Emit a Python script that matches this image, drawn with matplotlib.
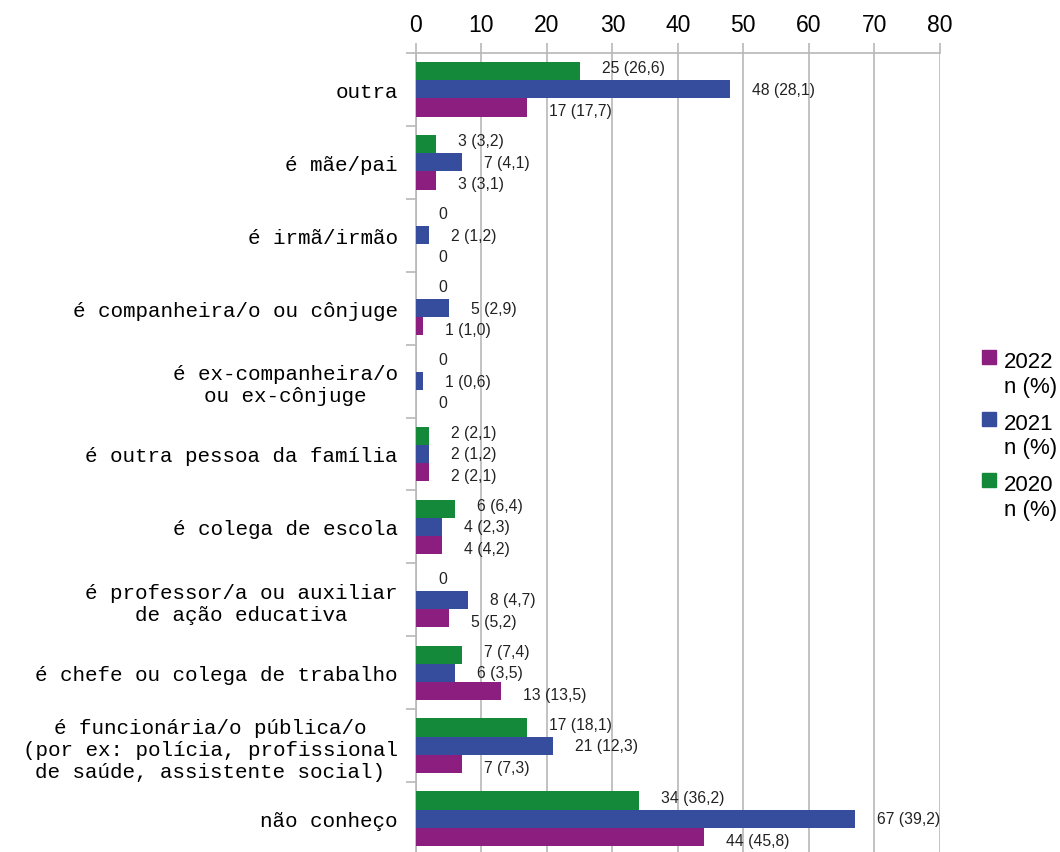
import matplotlib
matplotlib.use("Agg")
import matplotlib.pyplot as plt
from matplotlib.patches import Rectangle

categories = [
    "outra",
    "é mãe/pai",
    "é irmã/irmão",
    "é companheira/o ou cônjuge",
    "é ex-companheira/o\nou ex-cônjuge",
    "é outra pessoa da família",
    "é colega de escola",
    "é professor/a ou auxiliar\nde ação educativa",
    "é chefe ou colega de trabalho",
    "é funcionária/o pública/o\n(por ex: polícia, profissional\nde saúde, assistente social)",
    "não conheço",
]

n_2020 = [25, 3, 0, 0, 0, 2, 6, 0, 7, 17, 34]
pct_2020 = ["26,6", "3,2", None, None, None, "2,1", "6,4", None, "7,4", "18,1", "36,2"]

n_2021 = [48, 7, 2, 5, 1, 2, 4, 8, 6, 21, 67]
pct_2021 = ["28,1", "4,1", "1,2", "2,9", "0,6", "1,2", "2,3", "4,7", "3,5", "12,3", "39,2"]

n_2022 = [17, 3, 0, 1, 0, 2, 4, 5, 13, 7, 44]
pct_2022 = ["17,7", "3,1", None, "1,0", None, "2,1", "4,2", "5,2", "13,5", "7,3", "45,8"]

years = ["2022", "2021", "2020"]
colors = {"2020": "#15893A", "2021": "#364C9C", "2022": "#8C1E80"}
grid_color = "#b8b8b8"

W, H = 1060, 853
fig = plt.figure(figsize=(W / 100, H / 100), dpi=100)
ax = fig.add_axes([416 / W, 1 - 856.3 / H, 523.7 / W, 802.6 / H])

bar_h = 0.25
series = [
    ("2020", n_2020, pct_2020, -bar_h, -3.5),
    ("2021", n_2021, pct_2021, 0.0, 0.0),
    ("2022", n_2022, pct_2022, bar_h, 3.5),
]

ypos = list(range(len(categories)))
for year, vals, pcts, shift, dy in series:
    ys = [y + shift for y in ypos]
    ax.barh(ys, vals, height=bar_h, color=colors[year], zorder=3)
    for y, v, p in zip(ys, vals, pcts):
        lbl = f"{v}" if p is None else f"{v} ({p})"
        ax.annotate(lbl, (v, y), xytext=(22, -dy), textcoords="offset pixels",
                    ha="left", va="center", fontsize=11.3,
                    family="Liberation Sans", color="#222222", zorder=4)

ax.set_xlim(0, 80)
ax.set_ylim(len(categories) - 0.5, -0.5)

# value axis on top
ax.xaxis.tick_top()
ax.set_xticks(range(0, 81, 10))
ax.tick_params(axis="x", which="major", direction="out", length=7.2, width=1.2,
               color=grid_color, pad=5, labelsize=16.5)
for lab in ax.get_xticklabels():
    lab.set_family("Liberation Sans")
ax.grid(axis="x", color=grid_color, linewidth=1.2, zorder=0)

# category boundaries as ticks, names centred on groups
ax.set_yticks([i - 0.5 for i in range(len(categories) + 1)])
ax.set_yticklabels([])
ax.tick_params(axis="y", which="major", direction="out", length=7.2, width=1.2,
               color=grid_color)
ax.set_yticks(ypos, minor=True)
ax.set_yticklabels(categories, minor=True, family="Liberation Mono", fontsize=15,
                   multialignment="center", linespacing=1.2)
ax.tick_params(axis="y", which="minor", length=0, pad=13)

for side in ["right", "bottom"]:
    ax.spines[side].set_visible(False)
for side in ["top", "left"]:
    ax.spines[side].set_color(grid_color)
    ax.spines[side].set_linewidth(1.2)
    ax.spines[side].set_zorder(2)

# legend: square beside the year, "n (%)" on the line below
sq = 14
for i, year in enumerate(years):
    yc = 358 + i * 61.5
    fig.add_artist(Rectangle((982 / W, 1 - (yc + sq / 2) / H), sq / W, sq / H,
                             transform=fig.transFigure, color=colors[year]))
    fig.text(1004 / W, 1 - (yc + 10) / H, year, ha="left", va="baseline",
             fontsize=16, family="Liberation Sans")
    fig.text(1004 / W, 1 - (yc + 35) / H, "n (%)", ha="left", va="baseline",
             fontsize=16, family="Liberation Sans")

fig.savefig("out.png", dpi=100)
